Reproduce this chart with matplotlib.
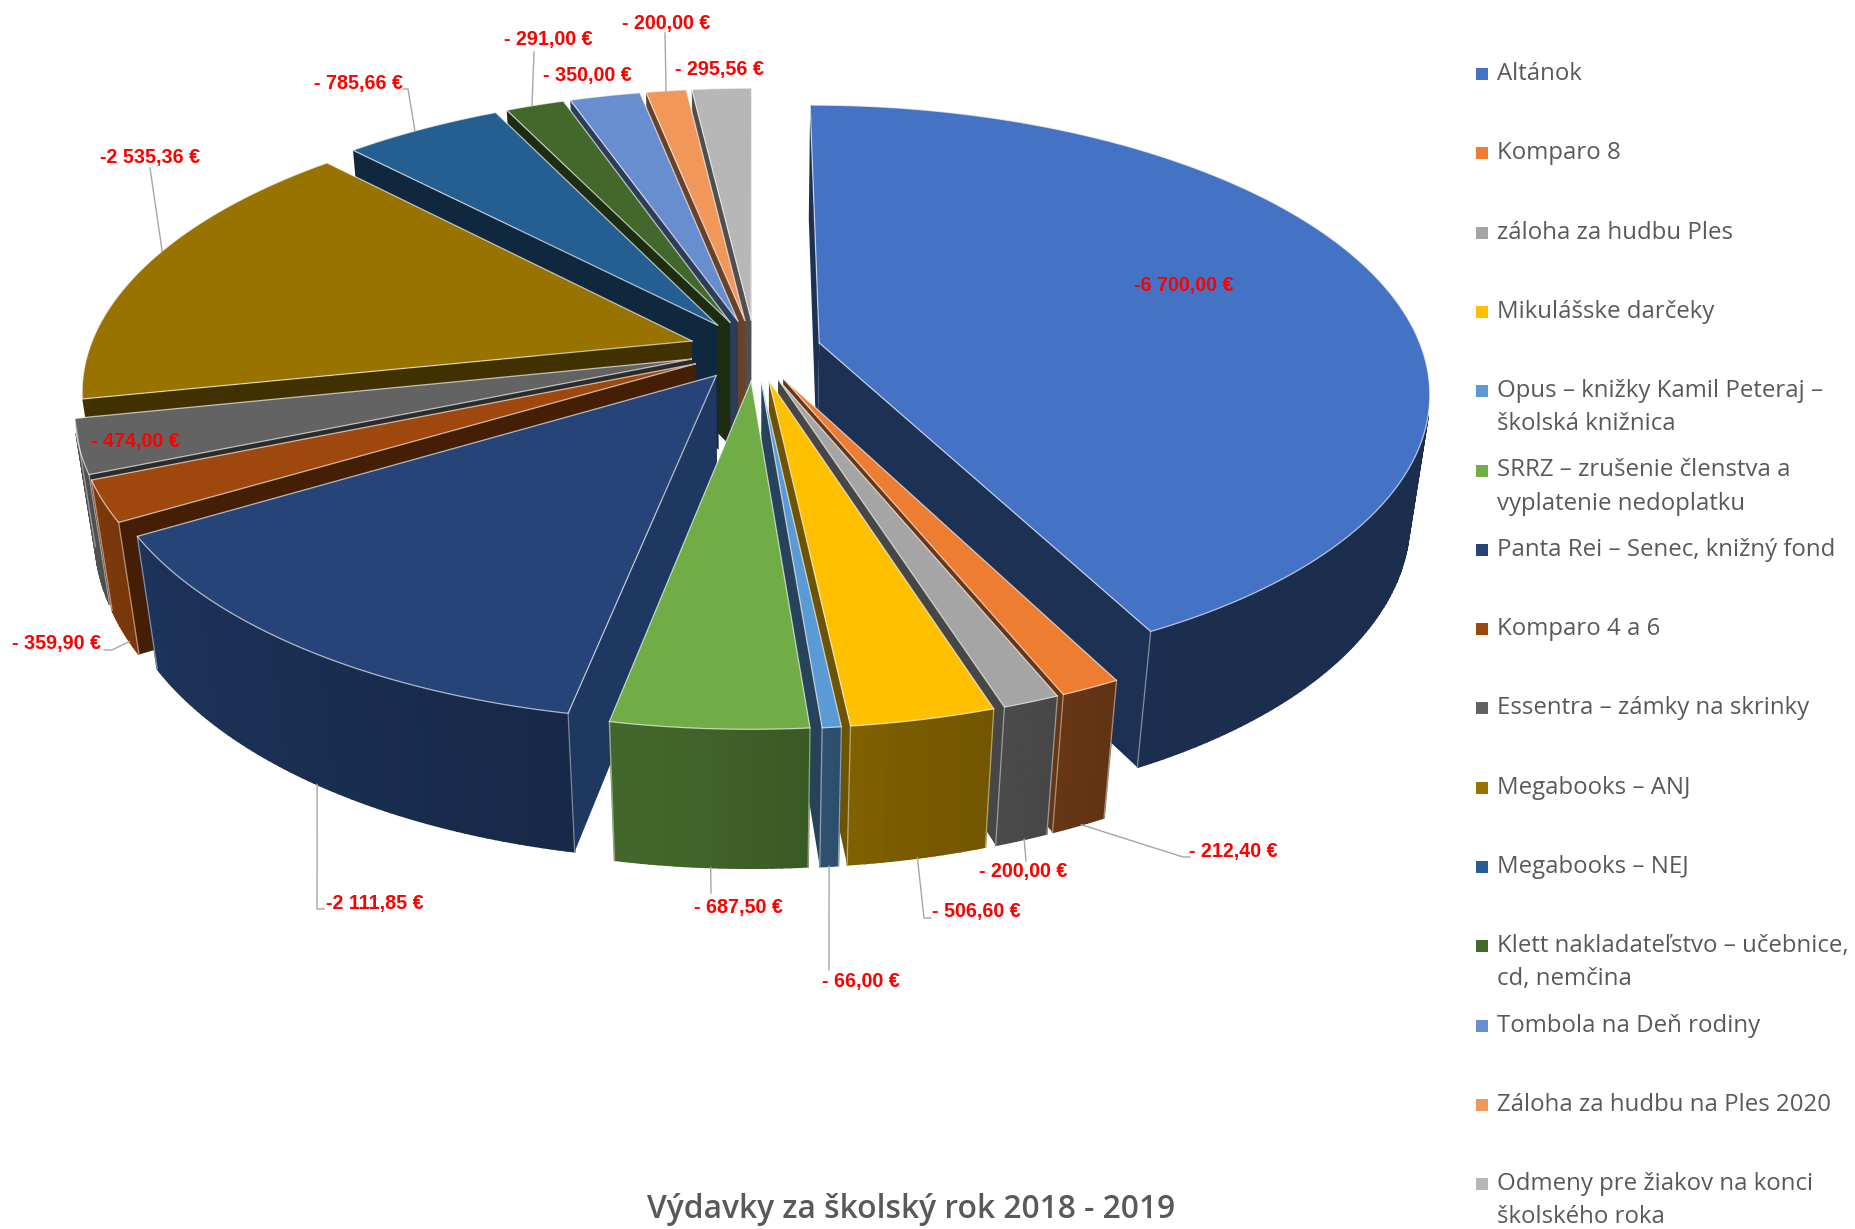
#!/bin/python3

import numpy as np
import matplotlib
matplotlib.use("Agg")
import matplotlib.pyplot as plt
from matplotlib.colors import to_rgb
from matplotlib.patches import Polygon, Rectangle

names = [
    "Altánok",
    "Komparo 8",
    "záloha za hudbu Ples",
    "Mikulášske darčeky",
    "Opus – knižky Kamil Peteraj –\nškolská knižnica",
    "SRRZ – zrušenie členstva a\nvyplatenie nedoplatku",
    "Panta Rei – Senec, knižný fond",
    "Komparo 4 a 6",
    "Essentra – zámky na skrinky",
    "Megabooks – ANJ",
    "Megabooks – NEJ",
    "Klett nakladateľstvo – učebnice,\ncd, nemčina",
    "Tombola na Deň rodiny",
    "Záloha za hudbu na Ples 2020",
    "Odmeny pre žiakov na konci\nškolského roka",
]
values = [6700.0, 212.4, 200.0, 506.6, 66.0, 687.5, 2111.85, 359.9,
          474.0, 2535.36, 785.66, 291.0, 350.0, 200.0, 295.56]
value_labels = ["-6 700,00 €", "- 212,40 €", "- 200,00 €", "- 506,60 €",
                "- 66,00 €", "- 687,50 €", "-2 111,85 €", "- 359,90 €",
                "- 474,00 €", "-2 535,36 €", "- 785,66 €", "- 291,00 €",
                "- 350,00 €", "- 200,00 €", "- 295,56 €"]
colors = ["#4472C4", "#ED7D31", "#A5A5A5", "#FFC000", "#5B9BD5", "#70AD47",
          "#264478", "#9E480E", "#636363", "#997300", "#255E91", "#43682B",
          "#698ED0", "#F1975A", "#B7B7B7"]
title = "Výdavky za školský rok 2018 - 2019"

# label centres in picture pixels
label_xy = [(1184, 286), (1233, 851), (1023, 872), (976, 912), (861, 981),
            (738, 907), (375, 903), (57, 644), (135, 441), (150, 157),
            (358, 84), (548, 39), (587, 75), (666, 24), (719, 70)]
# slice index -> (position along the arc, on bottom edge?, leader points after the arc)
leaders = {
    1: (0.45, 1, [(1183, 857), (1190, 857)]),
    2: (0.45, 1, [(1026, 861)]),
    3: (0.5, 1, [(924, 918), (931, 918)]),
    4: (0.5, 1, [(829, 970)]),
    5: (0.5, 1, [(711, 893)]),
    6: (0.5, 1, [(317, 909), (324, 909)]),
    7: (0.3, 1, [(112, 650), (104, 650)]),
    9: (0.55, 0, [(150, 168)]),
    10: (0.45, 0, [(408, 89), (403, 89)]),
    11: (0.45, 0, [(534, 52)]),
    13: (0.5, 0, [(665, 33)]),
}

# view of the 3d pie, all in picture pixels
CX, CY = 755, 350
RADIUS = 603
SQUASH = 0.463
PERSP = 0.165
PERSP_DEPTH = 0.03
HEIGHT = 129
EXPLODE = 0.11
LABEL_FONT = ["Liberation Sans Narrow", "Liberation Sans"]
TEXT_FONT = ["Open Sans", "DejaVu Sans"]


def project(px, py, depth):
    w = 1 + PERSP * py + PERSP_DEPTH * depth
    return (CX + RADIUS * px / w, CY + (-SQUASH * RADIUS * py + HEIGHT * depth) / w)


def shade(rgb, factor):
    return tuple(min(1.0, c * factor) for c in rgb)


def outer_factor(angle):
    # outer walls get lighter from the front right round to the left
    angle = angle % 360
    return np.interp(angle, [150, 170, 185, 230, 270], [0.4, 0.48, 0.58, 0.72, 0.88])


def area(pts):
    p = np.array(pts)
    return np.sum(p[:, 0] * np.roll(p[:, 1], -1) - np.roll(p[:, 0], -1) * p[:, 1])


fig = plt.figure(figsize=(18.55, 12.29), dpi=100)
ax = fig.add_axes([0, 0, 1, 1])
ax.set_xlim(0, 1855)
ax.set_ylim(1229, 0)
ax.axis("off")

edges = np.cumsum([0] + values) / sum(values) * 2 * np.pi
mids = (edges[:-1] + edges[1:]) / 2
offsets = [(EXPLODE * np.sin(m), EXPLODE * np.cos(m)) for m in mids]


def arc_point(i, angle, depth, r=1.0):
    ox, oy = offsets[i]
    return project(ox + r * np.sin(angle), oy + r * np.cos(angle), depth)


order = sorted(range(len(values)), key=lambda i: -(offsets[i][1] + 0.5 * np.cos(mids[i])))
for z, i in enumerate(order):
    z = z * 2 + 2
    rgb = to_rgb(colors[i])
    a0, a1 = edges[i], edges[i + 1]
    thetas = np.linspace(a0, a1, max(4, int(np.degrees(a1 - a0) * 1.5)))
    apex_top = arc_point(i, 0, 0, 0)
    apex_bot = arc_point(i, 0, 1, 0)
    wall_factor = 0.82 if i == 6 else 0.43

    # radial walls
    for wall in [
        [apex_top, arc_point(i, a0, 0), arc_point(i, a0, 1), apex_bot],
        [arc_point(i, a1, 0), apex_top, apex_bot, arc_point(i, a1, 1)],
    ]:
        if area(wall) < 0:
            ax.add_patch(Polygon(wall, closed=True, facecolor=shade(rgb, wall_factor),
                                 edgecolor="none", zorder=z))

    # outer wall, in thin strips for the shading
    for t0, t1 in zip(thetas[:-1], thetas[1:]):
        quad = [arc_point(i, t0, 0), arc_point(i, t1, 0), arc_point(i, t1, 1), arc_point(i, t0, 1)]
        if area(quad) < 0:
            c = shade(rgb, outer_factor(np.degrees((t0 + t1) / 2)))
            ax.add_patch(Polygon(quad, closed=True, facecolor=c, edgecolor=c,
                                 linewidth=1.2, zorder=z))

    # top face
    top = [apex_top] + [arc_point(i, t, 0) for t in thetas]
    ax.add_patch(Polygon(top, closed=True, facecolor=colors[i], edgecolor="none", zorder=z + 1))
    ax.plot(*zip(*top, top[0]), color=(1, 1, 1, 0.65), linewidth=0.9, zorder=z + 1)
    for a in (a0, a1):
        p0, p1 = arc_point(i, a, 0), arc_point(i, a, 1)
        if p0[1] > CY + 60:
            ax.plot([p0[0], p1[0]], [p0[1], p1[1]], color=(1, 1, 1, 0.45), linewidth=0.9, zorder=z + 1)

# value labels
for i, txt in enumerate(value_labels):
    ax.text(label_xy[i][0], label_xy[i][1], txt, color="#FF0000", fontsize=14.2,
            fontweight="bold", family=LABEL_FONT, ha="center", va="center", zorder=100)
for i, (frac, depth, pts) in leaders.items():
    start = arc_point(i, edges[i] + frac * (edges[i + 1] - edges[i]), depth)
    line = [start] + pts
    ax.plot(*zip(*line), color="#A6A6A6", linewidth=1.0, zorder=99)

# legend
for i, name in enumerate(names):
    y = 74 + 79.3 * i
    ax.add_patch(Rectangle((1476, y - 6), 12, 12, facecolor=colors[i], edgecolor="none"))
    for j, part in enumerate(name.split("\n")):
        ax.text(1497, y + j * 33, part, color="#595959", fontsize=17.3, family=TEXT_FONT,
                ha="left", va="center")

ax.text(911, 1210, title, color="#595959", fontsize=22.9, family=TEXT_FONT,
        fontweight="semibold", ha="center", va="center")

fig.savefig("out.png", dpi=100)
